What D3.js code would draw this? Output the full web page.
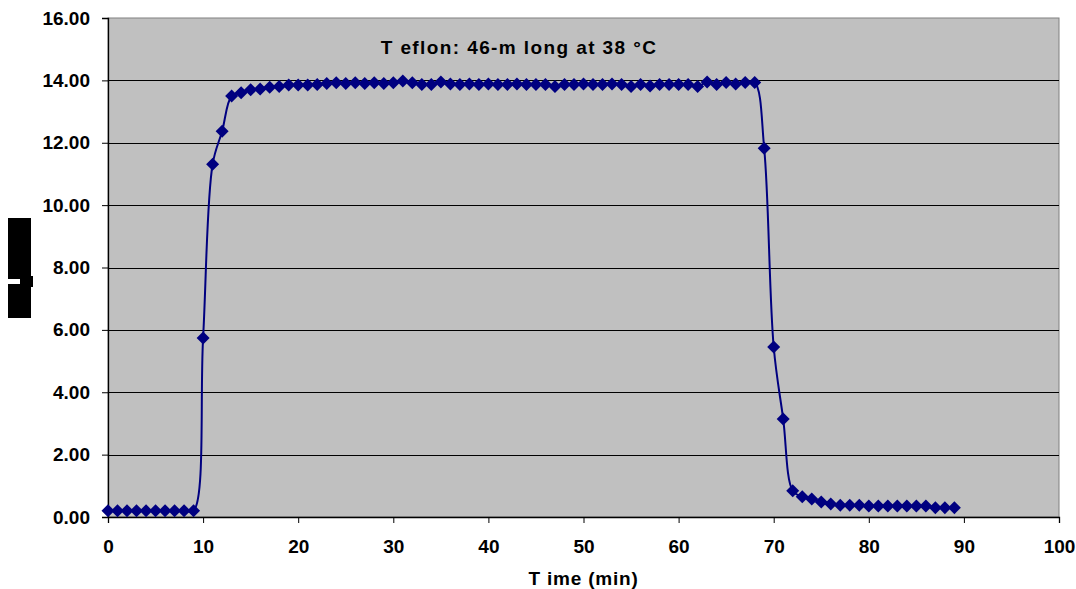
<!DOCTYPE html>
<html>
<head>
<meta charset="utf-8">
<script src="https://cdn.jsdelivr.net/npm/d3@7"></script>
<style>
  html, body { margin: 0; padding: 0; background: #fff; }
  svg { display: block; }
  .axis text { font-family: 'Liberation Sans', Arial, sans-serif; font-weight: bold; font-size: 19px; fill: #000; }
  .axis path, .axis line { stroke: #000; }
</style>
</head>
<body>
<svg id="chart" width="1076" height="589"></svg>
<script>
'use strict';

// time in minutes, one reading per minute
const minutes = d3.range( 0, 90 );

// readings
const readings = [
  0.20, 0.20, 0.20, 0.20, 0.20, 0.20, 0.20, 0.20, 0.20, 0.20,
  5.74, 11.31, 12.37, 13.50, 13.60, 13.70, 13.72, 13.78, 13.80, 13.85,
  13.85, 13.85, 13.87, 13.90, 13.92, 13.90, 13.92, 13.90, 13.92, 13.90,
  13.92, 13.98, 13.92, 13.87, 13.87, 13.95, 13.88, 13.87, 13.88, 13.87,
  13.88, 13.87, 13.87, 13.88, 13.87, 13.87, 13.87, 13.80, 13.87, 13.87,
  13.88, 13.87, 13.87, 13.88, 13.87, 13.80, 13.87, 13.82, 13.87, 13.87,
  13.87, 13.87, 13.80, 13.95, 13.87, 13.93, 13.88, 13.93, 13.93, 11.82,
  5.45, 3.14, 0.84, 0.65, 0.58, 0.48, 0.42, 0.38, 0.38, 0.38,
  0.35, 0.35, 0.35, 0.35, 0.35, 0.35, 0.35, 0.30, 0.30, 0.30
];

const xTicks = [ 0, 10, 20, 30, 40, 50, 60, 70, 80, 90, 100 ];
const yTicks = [ 0, 2, 4, 6, 8, 10, 12, 14, 16 ];

const chartTitle = 'T eflon: 46-m long at 38 °C',
      xTitle     = 'T ime (min)';

const margin = { top: 18, right: 17, bottom: 72, left: 108 },
      width  = 1076 - margin.left - margin.right,
      height = 589 - margin.top - margin.bottom;

const svg = d3.select( '#chart' )
            .append( 'g' )
              .attr( 'transform', `translate(${margin.left},${margin.top})` );

const x = d3.scaleLinear().domain( [ 0, 100 ] ).range( [ 0, width ] ),
      y = d3.scaleLinear().domain( [ 0, 16 ] ).range( [ height, 0 ] );

// plot area
svg.append( 'rect' )
    .attr( 'width', width )
    .attr( 'height', height )
    .style( 'fill', '#c0c0c0' )
    .style( 'stroke', '#808080' )
    .style( 'stroke-width', 1 );

// gridlines
svg.append( 'g' )
    .selectAll( 'line' )
    .data( yTicks.slice( 1, -1 ) )
  .enter().append( 'line' )
    .attr( 'x1', 0 )
    .attr( 'x2', width )
    .attr( 'y1', d => Math.round( y( d ) ) + 0.5 )
    .attr( 'y2', d => Math.round( y( d ) ) + 0.5 )
    .style( 'stroke', '#000' )
    .style( 'stroke-width', 1 );

// axes
svg.append( 'g' )
    .attr( 'class', 'x axis' )
    .attr( 'transform', `translate(0,${height})` )
    .call( d3.axisBottom( x ).tickValues( xTicks ).tickSize( 6 ).tickPadding( 17 ).tickFormat( d3.format( 'd' ) ) );

svg.append( 'g' )
    .attr( 'class', 'y axis' )
    .call( d3.axisLeft( y ).tickValues( yTicks ).tickSize( 6 ).tickPadding( 12 ).tickFormat( d3.format( '.2f' ) ) );

svg.selectAll( '.axis .domain' ).style( 'stroke-width', 1.3 );

// data
const points = minutes.map( ( t, i ) => ( { t: t, v: readings[ i ] } ) );

const line = d3.line()
  .x( d => x( d.t ) )
  .y( d => y( d.v ) )
  .curve( d3.curveCatmullRom.alpha( 0.5 ) );

svg.append( 'path' )
    .datum( points )
    .attr( 'd', line )
    .style( 'fill', 'none' )
    .style( 'stroke', '#000080' )
    .style( 'stroke-width', 2 );

svg.append( 'g' )
    .selectAll( 'path' )
    .data( points )
  .enter().append( 'path' )
    .attr( 'transform', d => `translate(${x( d.t )},${y( d.v )})` )
    .attr( 'd', 'M0,-6.5L6.5,0L0,6.5L-6.5,0Z' )
    .style( 'fill', '#000080' );

// titles
svg.append( 'text' )
    .attr( 'x', 411 )
    .attr( 'y', 36 )
    .style( 'text-anchor', 'middle' )
    .style( 'font-family', "'Liberation Sans', Arial, sans-serif" )
    .style( 'font-weight', 'bold' )
    .style( 'font-size', '19px' )
    .style( 'letter-spacing', '1.4px' )
    .text( chartTitle );

svg.append( 'text' )
    .attr( 'x', width / 2 )
    .attr( 'y', height + 68 )
    .style( 'text-anchor', 'middle' )
    .style( 'font-family', "'Liberation Sans', Arial, sans-serif" )
    .style( 'font-weight', 'bold' )
    .style( 'font-size', '19px' )
    .style( 'letter-spacing', '0.8px' )
    .text( xTitle );

// blacked-out y-axis label
const label = d3.select( '#chart' ).append( 'g' );
label.append( 'rect' ).attr( 'x', 8 ).attr( 'y', 218 ).attr( 'width', 23 ).attr( 'height', 100 ).style( 'fill', '#000' );
label.append( 'rect' ).attr( 'x', 8 ).attr( 'y', 279 ).attr( 'width', 12 ).attr( 'height', 5 ).style( 'fill', '#fff' );
label.append( 'rect' ).attr( 'x', 20 ).attr( 'y', 276 ).attr( 'width', 13 ).attr( 'height', 11 ).style( 'fill', '#000' );
</script>
</body>
</html>
